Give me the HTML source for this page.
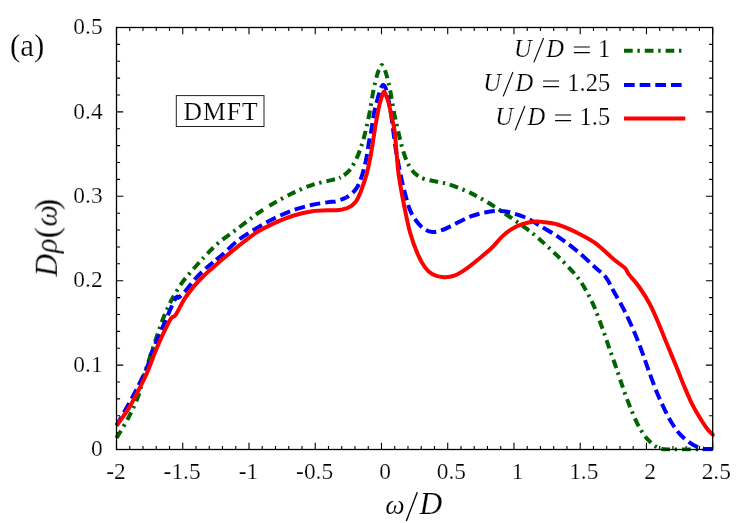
<!DOCTYPE html>
<html><head><meta charset="utf-8"><title>DMFT spectral function</title>
<style>html,body{margin:0;padding:0;background:#fff}body{width:747px;height:523px;overflow:hidden;font-family:"Liberation Serif",serif}svg{display:block}</style></head>
<body>
<svg width="747" height="523" viewBox="0 0 747 523">
<rect width="747" height="523" fill="#fff"/>
<defs><clipPath id="c"><rect x="114.50" y="25.50" width="600.20" height="426.00"/></clipPath></defs>
<path d="M116.50 449.50V442.70M116.50 27.50V34.30M129.75 449.50V445.90M129.75 27.50V31.10M143.00 449.50V445.90M143.00 27.50V31.10M156.25 449.50V445.90M156.25 27.50V31.10M169.50 449.50V445.90M169.50 27.50V31.10M182.74 449.50V442.70M182.74 27.50V34.30M195.99 449.50V445.90M195.99 27.50V31.10M209.24 449.50V445.90M209.24 27.50V31.10M222.49 449.50V445.90M222.49 27.50V31.10M235.74 449.50V445.90M235.74 27.50V31.10M248.99 449.50V442.70M248.99 27.50V34.30M262.24 449.50V445.90M262.24 27.50V31.10M275.49 449.50V445.90M275.49 27.50V31.10M288.74 449.50V445.90M288.74 27.50V31.10M301.98 449.50V445.90M301.98 27.50V31.10M315.23 449.50V442.70M315.23 27.50V34.30M328.48 449.50V445.90M328.48 27.50V31.10M341.73 449.50V445.90M341.73 27.50V31.10M354.98 449.50V445.90M354.98 27.50V31.10M368.23 449.50V445.90M368.23 27.50V31.10M381.48 449.50V442.70M381.48 27.50V34.30M394.73 449.50V445.90M394.73 27.50V31.10M407.98 449.50V445.90M407.98 27.50V31.10M421.22 449.50V445.90M421.22 27.50V31.10M434.47 449.50V445.90M434.47 27.50V31.10M447.72 449.50V442.70M447.72 27.50V34.30M460.97 449.50V445.90M460.97 27.50V31.10M474.22 449.50V445.90M474.22 27.50V31.10M487.47 449.50V445.90M487.47 27.50V31.10M500.72 449.50V445.90M500.72 27.50V31.10M513.97 449.50V442.70M513.97 27.50V34.30M527.22 449.50V445.90M527.22 27.50V31.10M540.46 449.50V445.90M540.46 27.50V31.10M553.71 449.50V445.90M553.71 27.50V31.10M566.96 449.50V445.90M566.96 27.50V31.10M580.21 449.50V442.70M580.21 27.50V34.30M593.46 449.50V445.90M593.46 27.50V31.10M606.71 449.50V445.90M606.71 27.50V31.10M619.96 449.50V445.90M619.96 27.50V31.10M633.21 449.50V445.90M633.21 27.50V31.10M646.46 449.50V442.70M646.46 27.50V34.30M659.70 449.50V445.90M659.70 27.50V31.10M672.95 449.50V445.90M672.95 27.50V31.10M686.20 449.50V445.90M686.20 27.50V31.10M699.45 449.50V445.90M699.45 27.50V31.10M712.70 449.50V442.70M712.70 27.50V34.30M116.50 449.50H123.30M712.70 449.50H705.90M116.50 432.62H120.10M712.70 432.62H709.10M116.50 415.74H120.10M712.70 415.74H709.10M116.50 398.86H120.10M712.70 398.86H709.10M116.50 381.98H120.10M712.70 381.98H709.10M116.50 365.10H123.30M712.70 365.10H705.90M116.50 348.22H120.10M712.70 348.22H709.10M116.50 331.34H120.10M712.70 331.34H709.10M116.50 314.46H120.10M712.70 314.46H709.10M116.50 297.58H120.10M712.70 297.58H709.10M116.50 280.70H123.30M712.70 280.70H705.90M116.50 263.82H120.10M712.70 263.82H709.10M116.50 246.94H120.10M712.70 246.94H709.10M116.50 230.06H120.10M712.70 230.06H709.10M116.50 213.18H120.10M712.70 213.18H709.10M116.50 196.30H123.30M712.70 196.30H705.90M116.50 179.42H120.10M712.70 179.42H709.10M116.50 162.54H120.10M712.70 162.54H709.10M116.50 145.66H120.10M712.70 145.66H709.10M116.50 128.78H120.10M712.70 128.78H709.10M116.50 111.90H123.30M712.70 111.90H705.90M116.50 95.02H120.10M712.70 95.02H709.10M116.50 78.14H120.10M712.70 78.14H709.10M116.50 61.26H120.10M712.70 61.26H709.10M116.50 44.38H120.10M712.70 44.38H709.10M116.50 27.50H123.30M712.70 27.50H705.90" stroke="#000" stroke-width="1.1" fill="none"/>
<g fill="none" stroke-width="4" stroke-linejoin="round" clip-path="url(#c)">
<path d="M116.50 437.99C118.53 434.53 125.10 424.15 128.70 417.24C132.30 410.33 135.56 403.44 138.10 396.52C140.64 389.60 140.96 385.31 143.94 375.71C146.92 366.12 152.98 347.93 155.97 338.95C158.97 329.97 159.99 326.83 161.88 321.81C163.78 316.79 165.51 312.84 167.33 308.82C169.14 304.81 170.34 302.05 172.77 297.74C175.20 293.42 178.86 287.26 181.91 282.92C184.95 278.59 187.98 275.31 191.03 271.73C194.08 268.16 197.61 264.35 200.20 261.49C202.79 258.62 203.49 257.66 206.57 254.52C209.65 251.39 213.54 247.00 218.70 242.69C223.85 238.38 231.25 233.36 237.50 228.66C243.75 223.96 251.52 217.90 256.20 214.49C260.88 211.08 262.47 210.21 265.60 208.20" stroke="#006400" stroke-dasharray="8.7 4.7 2.4 5" stroke-dashoffset="0.00"/>
<path d="M265.60 208.20C268.73 206.18 270.32 205.00 275.00 202.40C279.68 199.80 287.47 195.54 293.70 192.61C299.93 189.67 306.15 186.88 312.40 184.80C318.65 182.72 326.50 181.34 331.20 180.10C335.90 178.86 337.47 179.10 340.60 177.37" stroke="#006400" stroke-dasharray="8.7 4.7 2.4 5" stroke-dashoffset="16.30"/>
<path d="M340.60 177.37C343.73 175.64 347.18 173.25 350.00 169.73C352.82 166.22 355.47 160.69 357.50 156.28C359.53 151.88 360.92 147.27 362.20 143.30C363.48 139.34 364.03 137.26 365.20 132.48C366.37 127.70 367.82 121.72 369.20 114.65C370.58 107.58 372.13 96.81 373.50 90.04C374.87 83.26 376.32 77.73 377.40 74.01C378.48 70.29 379.27 69.22 380.00 67.69C380.73 66.17 381.20 64.89 381.80 64.88C382.40 64.87 382.87 66.14 383.60 67.65C384.33 69.17 385.12 70.25 386.20 73.97C387.28 77.69 388.73 83.24 390.10 89.99C391.47 96.74 393.02 107.44 394.40 114.47C395.78 121.51 397.05 126.49 398.40 132.19C399.75 137.90 400.90 143.45 402.50 148.71C404.10 153.96 405.82 159.50 408.00 163.72C410.18 167.94 412.77 171.47 415.60 174.04C418.43 176.61 420.63 177.73 425.00 179.16C429.37 180.59 437.43 181.61 441.80 182.60C446.17 183.60 446.50 183.45 451.20 185.13C455.90 186.81 463.75 189.69 470.00 192.68C476.25 195.66 482.47 199.26 488.70 203.02C494.93 206.79 501.15 211.03 507.40 215.27C513.65 219.51 520.98 224.58 526.20 228.46C531.42 232.35 533.48 234.01 538.70 238.59C543.92 243.17 551.25 249.77 557.50 255.94C563.75 262.11 571.50 269.94 576.20 275.60C580.90 281.26 582.68 284.67 585.70 289.90C588.72 295.13 591.45 300.40 594.30 307.00C597.15 313.60 600.13 322.17 602.80 329.50C605.47 336.83 607.75 343.73 610.30 351.00C612.85 358.27 615.80 366.40 618.10 373.10C620.40 379.80 622.08 385.52 624.10 391.20C626.12 396.88 628.02 401.85 630.20 407.20C632.38 412.55 634.87 418.63 637.20 423.30C639.53 427.97 642.02 432.12 644.20 435.23C646.38 438.35 648.28 440.07 650.30 441.99C652.32 443.91 654.30 445.58 656.30 446.75C658.30 447.92 660.02 448.54 662.30 448.99C664.58 449.44 661.57 449.41 670.00 449.46C678.43 449.51 705.75 449.33 712.90 449.30" stroke="#006400" stroke-dasharray="8.7 4.7 2.4 5" stroke-dashoffset="16.68"/>
<path d="M116.48 425.50C118.45 422.04 124.72 411.22 128.28 404.79C131.83 398.36 134.61 393.33 137.82 386.91C141.03 380.48 145.29 371.84 147.55 366.22C149.81 360.60 149.35 358.62 151.40 353.17" stroke="#0000ff" stroke-dasharray="10.7 4.95" stroke-dashoffset="0.71"/>
<path d="M151.40 353.17C153.45 347.73 155.94 342.51 159.87 333.56C163.80 324.60 171.84 305.43 175.00 299.44C178.16 293.44 176.97 299.10 178.80 297.57C180.63 296.04 183.30 293.33 185.97 290.28C188.64 287.23 191.84 282.60 194.83 279.24C197.82 275.88 200.87 272.95 203.91 270.10C206.95 267.25 210.02 264.72 213.10 262.17" stroke="#0000ff" stroke-dasharray="10.7 4.95" stroke-dashoffset="5.72"/>
<path d="M213.10 262.17C216.18 259.61 218.33 258.35 222.40 254.78C226.47 251.21 231.87 245.15 237.50 240.75C243.13 236.35 249.95 232.17 256.20 228.38C262.45 224.58 268.75 221.06 275.00 218.00C281.25 214.94 287.47 212.21 293.70 210.01C299.93 207.81 306.15 206.16 312.40 204.80C318.65 203.43 327.43 202.35 331.20 201.81C334.97 201.26 332.50 202.22 335.00 201.51C337.50 200.79 342.77 199.50 346.20 197.51" stroke="#0000ff" stroke-dasharray="10.7 4.95" stroke-dashoffset="11.78"/>
<path d="M346.20 197.51C349.63 195.52 353.10 192.84 355.60 189.58C358.10 186.32 359.48 182.81 361.20 177.97C362.92 173.12 364.58 166.62 365.90 160.51C367.22 154.40 368.20 146.31 369.10 141.31C370.00 136.31 370.50 135.09 371.30 130.50C372.10 125.91 372.75 119.45 373.90 113.80C375.05 108.15 377.08 100.80 378.20 96.60C379.32 92.40 379.80 90.55 380.60 88.60C381.40 86.65 382.17 85.00 383.00 84.90C383.83 84.80 384.72 85.65 385.60 88.00C386.48 90.35 387.40 94.67 388.30 99.00C389.20 103.33 390.17 108.67 391.00 114.00" stroke="#0000ff" stroke-dasharray="10.7 4.95" stroke-dashoffset="7.59"/>
<path d="M391.00 114.00C391.83 119.33 392.42 124.58 393.30 131.00C394.18 137.42 394.93 144.50 396.30 152.50C397.67 160.50 399.93 171.75 401.50 179.00C403.07 186.25 404.37 191.05 405.70 196.00C407.03 200.95 408.03 204.95 409.50 208.70C410.97 212.45 412.23 215.25 414.50 218.50C416.77 221.75 420.10 225.98 423.10 228.23C426.10 230.48 429.37 231.68 432.50 232.00C435.63 232.33 438.78 231.19 441.90 230.18C445.02 229.17 446.52 228.20 451.20 225.95C455.88 223.71 463.75 219.08 470.00 216.70C476.25 214.32 484.03 212.67 488.70 211.70C493.37 210.73 494.88 210.89 498.00 210.90C501.12 210.91 502.70 210.61 507.40 211.77C512.10 212.94 520.98 215.70 526.20 217.90C531.42 220.10 533.48 221.93 538.70 225.00C543.92 228.07 551.25 232.08 557.50 236.30C563.75 240.52 569.95 245.15 576.20 250.30C582.45 255.45 590.03 262.67 595.00 267.20C599.97 271.73 602.92 273.53 606.00 277.50C609.08 281.47 610.45 285.53 613.50 291.00C616.55 296.47 620.72 303.17 624.30 310.30C627.88 317.43 631.97 326.67 635.00 333.80C638.03 340.93 640.25 347.07 642.50 353.10C644.75 359.13 646.20 363.67 648.50 370.00C650.80 376.33 653.67 384.58 656.30 391.05C658.93 397.53 661.63 403.41 664.30 408.87C666.97 414.32 669.62 419.47 672.30 423.78C674.98 428.08 677.72 431.72 680.40 434.70C683.08 437.67 685.73 439.65 688.40 441.62C691.07 443.60 693.72 445.34 696.40 446.55C699.08 447.76 701.75 448.47 704.50 448.88C707.25 449.29 711.50 448.98 712.90 449.00" stroke="#0000ff" stroke-dasharray="10.7 4.95" stroke-dashoffset="1.22"/>
<path d="M116.49 425.80C118.47 422.98 124.83 414.54 128.36 408.89C131.89 403.24 134.55 397.88 137.66 391.91C140.76 385.93 144.02 379.76 146.97 373.02C149.93 366.29 152.69 358.05 155.39 351.49C158.10 344.92 160.63 339.10 163.21 333.62C165.80 328.14 168.83 321.74 170.91 318.60C173.00 315.46 173.48 318.08 175.75 314.80C178.02 311.52 181.48 303.68 184.53 298.90C187.59 294.12 190.90 289.93 194.09 286.11C197.28 282.29 200.50 279.07 203.67 275.97C206.84 272.87 209.98 270.27 213.10 267.50C216.22 264.72 218.33 262.77 222.40 259.34C226.47 255.91 231.87 251.34 237.50 246.90C243.13 242.45 249.95 236.67 256.20 232.67C262.45 228.67 268.75 225.76 275.00 222.90C281.25 220.03 287.47 217.44 293.70 215.50C299.93 213.56 306.15 212.14 312.40 211.26C318.65 210.38 326.82 210.42 331.20 210.21C335.58 210.00 335.88 210.42 338.70 210.00C341.52 209.58 345.28 209.03 348.10 207.70C350.92 206.37 353.42 204.87 355.60 202.00C357.78 199.13 359.32 195.30 361.20 190.48C363.08 185.66 365.33 178.81 366.90 173.10C368.47 167.39 369.50 162.05 370.60 156.20C371.70 150.35 372.45 144.48 373.50 138.00C374.55 131.52 375.78 123.33 376.90 117.30C378.02 111.27 379.30 105.48 380.20 101.80C381.10 98.12 381.65 96.93 382.30 95.20C382.95 93.47 383.48 91.40 384.10 91.40C384.72 91.40 385.30 93.47 386.00 95.20C386.70 96.93 387.33 98.12 388.30 101.80C389.27 105.48 390.75 112.43 391.80 117.30C392.85 122.17 393.87 125.77 394.60 131.00C395.33 136.23 395.62 142.20 396.20 148.70C396.78 155.20 397.38 163.75 398.10 170.00C398.82 176.25 399.48 180.20 400.50 186.20C401.52 192.20 402.63 198.37 404.20 206.00C405.77 213.63 407.68 224.07 409.90 232.00C412.12 239.93 414.98 247.70 417.50 253.60C420.02 259.50 422.50 263.97 425.00 267.40C427.50 270.83 429.38 272.56 432.50 274.20C435.62 275.84 439.95 277.05 443.70 277.25C447.45 277.45 451.25 276.81 455.00 275.40C458.75 273.99 462.15 271.62 466.20 268.80C470.25 265.98 474.93 262.10 479.30 258.50C483.67 254.90 488.65 250.80 492.40 247.20C496.15 243.60 498.67 239.87 501.80 236.90C504.93 233.93 507.77 231.52 511.20 229.40C514.63 227.28 518.43 225.51 522.40 224.19C526.37 222.87 531.65 221.88 535.00 221.50C538.35 221.12 538.75 221.41 542.50 221.91C546.25 222.41 551.88 222.77 557.50 224.50C563.12 226.23 569.95 229.23 576.20 232.30C582.45 235.37 588.75 238.40 595.00 242.90C601.25 247.40 608.70 255.10 613.70 259.30C618.70 263.50 622.53 265.67 625.00 268.10C627.47 270.53 626.13 270.75 628.50 273.90C630.87 277.05 635.62 281.92 639.20 287.02C642.78 292.12 646.78 298.47 650.00 304.50C653.22 310.53 655.65 316.57 658.50 323.21C661.35 329.84 664.12 337.07 667.10 344.32C670.08 351.57 673.52 359.63 676.40 366.69C679.28 373.75 681.73 380.37 684.40 386.70C687.07 393.03 689.72 399.35 692.40 404.70C695.08 410.05 697.98 414.72 700.50 418.81C703.02 422.89 705.43 426.57 707.50 429.22C709.57 431.86 711.75 433.57 712.90 434.70C714.05 435.83 714.15 435.78 714.40 436.00" stroke="#ff0000"/>
</g>
<rect x="116.50" y="27.50" width="596.20" height="422.00" fill="none" stroke="#000" stroke-width="1.3"/>
<g fill="none" stroke-width="4">
<path d="M624 50.8H685.3" stroke="#006400" stroke-dasharray="8.7 4.7 2.4 5"/>
<path d="M624 85H685.3" stroke="#0000ff" stroke-dasharray="10.7 4.95"/>
<path d="M624 118.6H685.3" stroke="#ff0000"/>
</g>
<g font-family="'Liberation Serif', serif" fill="#000" stroke="#fff" stroke-width="0.2" paint-order="fill" opacity="0.995">
<text x="102.6" y="456.10" font-size="23.4" text-anchor="end">0</text>
<text x="102.6" y="371.70" font-size="23.4" text-anchor="end">0.1</text>
<text x="102.6" y="287.30" font-size="23.4" text-anchor="end">0.2</text>
<text x="102.6" y="202.90" font-size="23.4" text-anchor="end">0.3</text>
<text x="102.6" y="118.50" font-size="23.4" text-anchor="end">0.4</text>
<text x="102.6" y="34.10" font-size="23.4" text-anchor="end">0.5</text>
<text x="115.90" y="479.2" font-size="23.4" text-anchor="middle">-2</text>
<text x="182.14" y="479.2" font-size="23.4" text-anchor="middle">-1.5</text>
<text x="248.39" y="479.2" font-size="23.4" text-anchor="middle">-1</text>
<text x="314.63" y="479.2" font-size="23.4" text-anchor="middle">-0.5</text>
<text x="385.08" y="479.2" font-size="23.4" text-anchor="middle">0</text>
<text x="451.32" y="479.2" font-size="23.4" text-anchor="middle">0.5</text>
<text x="517.57" y="479.2" font-size="23.4" text-anchor="middle">1</text>
<text x="583.81" y="479.2" font-size="23.4" text-anchor="middle">1.5</text>
<text x="650.06" y="479.2" font-size="23.4" text-anchor="middle">2</text>
<text x="716.30" y="479.2" font-size="23.4" text-anchor="middle">2.5</text>
<text y="514.3" font-style="italic"><tspan x="385.3" font-size="27.5">ω</tspan><tspan x="419.6" font-size="31.5">D</tspan></text>
<path d="M406.3 520.9L417.3 492.2" stroke="#000" stroke-width="1.35" fill="none"/>
<text transform="translate(56.8 276.6) rotate(-90)" y="0"><tspan x="0" font-size="31.5" font-style="italic">D</tspan><tspan x="23.5" font-size="30.5" font-style="italic">ρ</tspan><tspan x="38.2" y="1.3" font-size="34">(</tspan><tspan x="50" y="0" font-size="30.5" font-style="italic">ω</tspan><tspan x="66.6" y="1.3" font-size="34">)</tspan></text>
<text x="9.9" y="55.8" font-size="31">(a)</text>
<rect x="176.3" y="95.6" width="87.7" height="30.9" fill="none" stroke="#222" stroke-width="1"/>
<text x="183.5" y="120" font-size="25.6" letter-spacing="1.0">DMFT</text>
<text y="56.6" font-size="24.5" font-style="italic"><tspan x="514.0">U</tspan><tspan x="546.2">D</tspan></text><path d="M533.90 62.40L543.60 38.00" stroke="#000" stroke-width="1.15" fill="none"/><path d="M573.80 47.00h16M573.80 52.60h16" stroke="#000" stroke-width="1.1" fill="none"/><text x="610.2" y="56.6" font-size="24.5" text-anchor="end">1</text>
<text y="90.6" font-size="24.5" font-style="italic"><tspan x="483.3">U</tspan><tspan x="515.5">D</tspan></text><path d="M503.20 96.40L512.90 72.00" stroke="#000" stroke-width="1.15" fill="none"/><path d="M543.10 81.00h16M543.10 86.60h16" stroke="#000" stroke-width="1.1" fill="none"/><text x="610.2" y="90.6" font-size="24.5" text-anchor="end">1.25</text>
<text y="124.6" font-size="24.5" font-style="italic"><tspan x="495.3">U</tspan><tspan x="527.5">D</tspan></text><path d="M515.20 130.40L524.90 106.00" stroke="#000" stroke-width="1.15" fill="none"/><path d="M555.10 115.00h16M555.10 120.60h16" stroke="#000" stroke-width="1.1" fill="none"/><text x="610.2" y="124.6" font-size="24.5" text-anchor="end">1.5</text>
</g>
</svg>
</body></html>
